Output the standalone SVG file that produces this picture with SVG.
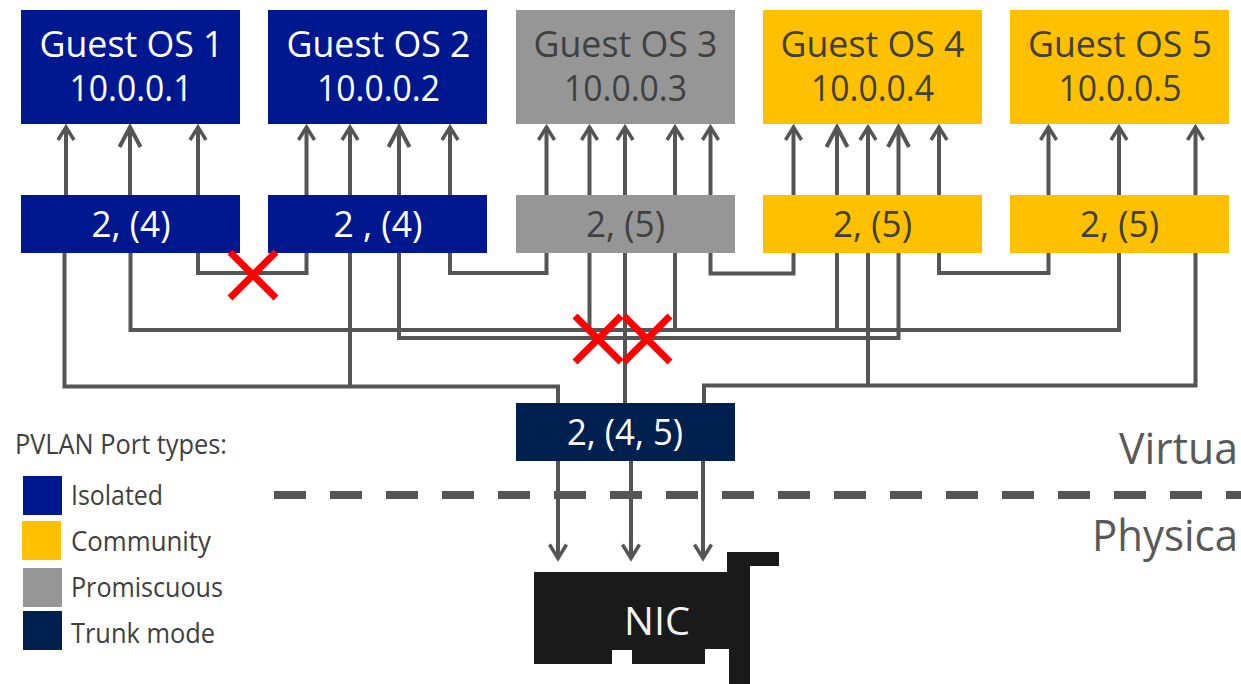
<svg xmlns="http://www.w3.org/2000/svg" width="1241" height="684" viewBox="0 0 1241 684">
<style>
text{font-family:"Open Sans","Noto Sans","Liberation Sans",sans-serif;text-anchor:middle}
.iso{fill:#00188f}.com{fill:#ffc000}.pro{fill:#969696}.trk{fill:#002050}
.w{fill:#fff}.d{fill:#404040}
.t{font-size:36px}.p{font-size:37px}
.lg{font-size:26.500px;fill:#404040;text-anchor:start}
.c{fill:none;stroke:#555;stroke-width:4}
.a{marker-end:url(#ah)}.b{marker-end:url(#ahb)}.e{marker-end:url(#ahd)}
.x{fill:none;stroke:#f00;stroke-width:7}
</style>
<defs>
<marker id="ah" markerUnits="userSpaceOnUse" markerWidth="30" markerHeight="30" refX="0" refY="0" orient="auto" viewBox="-24 -15 30 30"><path d="M-13 -8 0 0 -13 8" fill="none" stroke="#555" stroke-width="3.500"/></marker>
<marker id="ahd" markerUnits="userSpaceOnUse" markerWidth="30" markerHeight="30" refX="0" refY="0" orient="auto" viewBox="-24 -15 30 30"><path d="M-14 -8.500 0 0 -14 8.500" fill="none" stroke="#555" stroke-width="3.500"/></marker>
<marker id="ahb" markerUnits="userSpaceOnUse" markerWidth="40" markerHeight="40" refX="0" refY="0" orient="auto" viewBox="-32 -20 40 40"><path d="M-20 -10.500 0 0 -20 10.500" fill="none" stroke="#555" stroke-width="4"/></marker>
</defs>
<g id="connectors">
<path class="c a" d="M66 195V127"/><path class="c b" d="M130 195V127"/><path class="c a" d="M198 195V127"/>
<path class="c a" d="M306.500 195V127"/><path class="c a" d="M350 195V127"/><path class="c b" d="M399 195V127"/><path class="c a" d="M450 195V127"/>
<path class="c a" d="M546.500 195V127"/><path class="c a" d="M589.500 195V127"/><path class="c a" d="M625 195V127"/><path class="c a" d="M675 195V127"/><path class="c a" d="M710.500 195V127"/>
<path class="c a" d="M793.500 195V127"/><path class="c b" d="M837 195V127"/><path class="c a" d="M868 195V127"/><path class="c b" d="M898.500 195V127"/><path class="c a" d="M939 195V127"/>
<path class="c a" d="M1048.500 195V127"/><path class="c a" d="M1119 195V127"/><path class="c a" d="M1195.500 195V127"/>
<path class="c" d="M198 253V273H306.500V253"/>
<path class="c" d="M450 253V273H546.500V253"/>
<path class="c" d="M710.500 253V273.500H793.500V253"/>
<path class="c" d="M939 253V273H1048.500V253"/>
<path class="c" d="M130.500 253V330H1119V253"/>
<path class="c" d="M589.500 253V330M675 253V330M837 253V330"/>
<path class="c" d="M399 253V338H898.500V253"/>
<path class="c" d="M625 253V403"/>
<path class="c" d="M64.500 253V386.500H558V403"/>
<path class="c" d="M350 253V386.500"/>
<path class="c" d="M1195.500 253V385.500H704V403"/>
<path class="c" d="M868 253V385.500"/>
<path class="c e" d="M558 461V558.500"/><path class="c e" d="M631 461V558.500"/><path class="c e" d="M703 461V558.500"/>
</g>
<path id="divider" d="M274 495H1241" fill="none" stroke="#555" stroke-width="8" stroke-dasharray="32 24"/>
<g id="guest1"><rect class="iso" x="21" y="10" width="219" height="114"/><text class="t w" x="131.500" y="57" textLength="184" lengthAdjust="spacingAndGlyphs">Guest OS 1</text><text class="t w" x="131" y="101" textLength="123" lengthAdjust="spacingAndGlyphs">10.0.0.1</text></g>
<g id="guest2"><rect class="iso" x="268" y="10" width="219" height="114"/><text class="t w" x="378.500" y="57" textLength="184" lengthAdjust="spacingAndGlyphs">Guest OS 2</text><text class="t w" x="378.500" y="101" textLength="123" lengthAdjust="spacingAndGlyphs">10.0.0.2</text></g>
<g id="guest3"><rect class="pro" x="516" y="10" width="219" height="114"/><text class="t d" x="625.500" y="57" textLength="184" lengthAdjust="spacingAndGlyphs">Guest OS 3</text><text class="t d" x="625.500" y="101" textLength="123" lengthAdjust="spacingAndGlyphs">10.0.0.3</text></g>
<g id="guest4"><rect class="com" x="763" y="10" width="219" height="114"/><text class="t d" x="872.500" y="57" textLength="184" lengthAdjust="spacingAndGlyphs">Guest OS 4</text><text class="t d" x="872.500" y="101" textLength="123" lengthAdjust="spacingAndGlyphs">10.0.0.4</text></g>
<g id="guest5"><rect class="com" x="1010" y="10" width="219" height="114"/><text class="t d" x="1120" y="57" textLength="184" lengthAdjust="spacingAndGlyphs">Guest OS 5</text><text class="t d" x="1120" y="101" textLength="123" lengthAdjust="spacingAndGlyphs">10.0.0.5</text></g>
<g id="port1"><rect class="iso" x="21" y="195" width="219" height="58"/><text class="p w" x="131" y="237" textLength="79" lengthAdjust="spacingAndGlyphs">2, (4)</text></g>
<g id="port2"><rect class="iso" x="268" y="195" width="219" height="58"/><text class="p w" x="378" y="237" textLength="89" lengthAdjust="spacingAndGlyphs">2 , (4)</text></g>
<g id="port3"><rect class="pro" x="516" y="195" width="219" height="58"/><text class="p d" x="625.500" y="237" textLength="79" lengthAdjust="spacingAndGlyphs">2, (5)</text></g>
<g id="port4"><rect class="com" x="763" y="195" width="219" height="58"/><text class="p d" x="872.500" y="237" textLength="79" lengthAdjust="spacingAndGlyphs">2, (5)</text></g>
<g id="port5"><rect class="com" x="1010" y="195" width="219" height="58"/><text class="p d" x="1119.500" y="237" textLength="79" lengthAdjust="spacingAndGlyphs">2, (5)</text></g>
<g id="trunk"><rect class="trk" x="516" y="403" width="219" height="58"/><text class="p w" x="625" y="445" textLength="116" lengthAdjust="spacingAndGlyphs">2, (4, 5)</text></g>
<g id="nic"><path fill="#1a1a1a" d="M534 572H727V552H779V566H750V684H729V649H705V664H632V650H612V664H534Z"/><text x="657" y="635" font-size="39" fill="#f2f2f2" textLength="66" lengthAdjust="spacingAndGlyphs">NIC</text></g>
<g id="blocks">
<path class="x" d="M230 252 276 298M276 252 230 298"/>
<path class="x" d="M575 316 621 362M621 316 575 362"/>
<path class="x" d="M624 316 670 362M670 316 624 362"/>
</g>
<g id="legend">
<text class="lg" x="15" y="454" textLength="212" lengthAdjust="spacingAndGlyphs">PVLAN Port types:</text>
<rect class="iso" x="23" y="476" width="39" height="39"/><text class="lg" x="71" y="505" textLength="92" lengthAdjust="spacingAndGlyphs">Isolated</text>
<rect class="com" x="22" y="521" width="39" height="39"/><text class="lg" x="71" y="551" textLength="140" lengthAdjust="spacingAndGlyphs">Community</text>
<rect class="pro" x="23" y="568" width="39" height="39"/><text class="lg" x="71" y="597" textLength="152" lengthAdjust="spacingAndGlyphs">Promiscuous</text>
<rect class="trk" x="23" y="611" width="39" height="39"/><text class="lg" x="71" y="643" textLength="144" lengthAdjust="spacingAndGlyphs">Trunk mode</text>
</g>
<g id="planes">
<text x="1119" y="464" font-size="44" fill="#595959" style="text-anchor:start" textLength="119" lengthAdjust="spacingAndGlyphs">Virtua</text>
<text x="1092" y="551" font-size="44" fill="#595959" style="text-anchor:start" textLength="146" lengthAdjust="spacingAndGlyphs">Physica</text>
</g>
</svg>
